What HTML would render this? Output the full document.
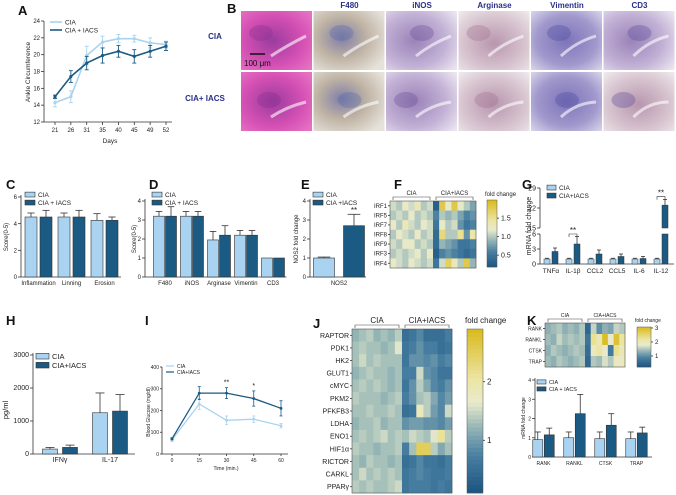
<!DOCTYPE html>
<html><head><meta charset="utf-8"><style>
html,body{margin:0;padding:0;background:#fff}
svg{display:block;font-family:"Liberation Sans",Arial,sans-serif}
</style></head><body>
<svg id="fig" width="676" height="495" viewBox="0 0 676 495" xmlns="http://www.w3.org/2000/svg">
<defs>
<radialGradient id="gHE" cx="45%" cy="50%" r="70%"><stop offset="0" stop-color="#9a3c9e"/><stop offset="0.6" stop-color="#d550b4"/><stop offset="1" stop-color="#e672c4"/></radialGradient>
<radialGradient id="gF" cx="40%" cy="45%" r="70%"><stop offset="0" stop-color="#7f7ea8"/><stop offset="0.5" stop-color="#bfb3a4"/><stop offset="1" stop-color="#e6e2da"/></radialGradient>
<radialGradient id="gL" cx="40%" cy="50%" r="75%"><stop offset="0" stop-color="#9a82b8"/><stop offset="0.6" stop-color="#c3b2d6"/><stop offset="1" stop-color="#ebe5f0"/></radialGradient>
<radialGradient id="gA" cx="50%" cy="55%" r="75%"><stop offset="0" stop-color="#b896ae"/><stop offset="0.6" stop-color="#d8c5d0"/><stop offset="1" stop-color="#f0ecee"/></radialGradient>
<radialGradient id="gV" cx="50%" cy="50%" r="70%"><stop offset="0" stop-color="#7d74ba"/><stop offset="0.6" stop-color="#a198cc"/><stop offset="1" stop-color="#d8d4ea"/></radialGradient>
</defs>
</svg>
<script>
// ---------- DATA ----------
const daysA = [21,26,31,35,40,45,49,52];
const ciaA = [14.3,15.0,19.9,21.5,21.9,21.9,21.4,21.2];
const ciaAerr = [0.5,0.7,1.1,0.7,0.5,0.4,0.6,0.4];
const iacsA = [15.0,17.4,19.0,19.9,20.4,19.8,20.4,21.0];
const iacsAerr = [0.2,0.7,0.8,0.9,0.7,0.8,0.7,0.5];
const ticksA = [12,14,16,18,20,22,24];

const catsC = ['Inflammation','Linning','Erosion'];
const ciaC = [4.5,4.5,4.25];
const iacsC = [4.5,4.5,4.25];
const ciaCerr = [0.3,0.3,0.5];
const iacsCerr = [0.5,0.5,0.25];

const catsD = ['F480','iNOS','Arginase','Vimentin','CD3'];
const ciaD = [3.2,3.2,1.95,2.2,1.0];
const iacsD = [3.2,3.2,2.2,2.2,1.0];
const ciaDerr = [0.25,0.25,0.45,0.25,0];
const iacsDerr = [0.5,0.25,0.5,0.25,0];

const catsE = ['NOS2'];
const ciaE = [1.0];
const iacsE = [2.7];
const ciaEerr = [0.05];
const iacsEerr = [0.6];

const catsG = ['TNFα','IL-1β','CCL2','CCL5','IL-6','IL-12'];
const ciaG = [1,1,1,1,1,1];
const iacsG = [2.5,4.0,2.0,1.5,1.1,23];
const ciaGerr = [0.15,0.15,0.15,0.15,0.15,0.15];
const iacsGerr = [0.7,1.5,0.8,0.5,0.4,2.0];

const catsH = ['IFNγ','IL-17'];
const ciaH = [150,1250];
const iacsH = [200,1300];
const ciaHerr = [50,600];
const iacsHerr = [70,500];

const timeI = [0,15,30,45,60];
const ciaI = [65,230,155,160,130];
const ciaIerr = [8,25,20,15,10];
const iacsI = [70,280,280,255,210];
const iacsIerr = [5,30,25,35,35];

const catsK = ['RANK','RANKL','CTSK','TRAP'];
const ciaK = [0.9,1.0,0.95,0.95];
const iacsK = [1.15,2.25,1.65,1.25];
const ciaKerr = [0.4,0.3,0.35,0.35];
const iacsKerr = [0.35,1.0,0.6,0.3];

const rowsF = ['IRF1','IRF5','IRF7','IRF8','IRF9','IRF3','IRF4'];
const heatF = [
 [1.1,1.0,1.2,1.1,1.3,1.0,1.1, 0.3,1.8,1.2,1.8,1.2,1.0,0.8],
 [1.0,1.1,1.0,1.2,1.0,1.1,1.0, 0.6,1.0,0.9,1.0,0.8,0.6,0.7],
 [1.2,1.0,1.3,1.1,1.0,1.2,1.1, 0.5,1.2,1.0,1.1,0.7,0.5,0.6],
 [1.0,1.2,1.1,1.0,1.2,1.0,1.1, 0.4,1.6,1.0,1.0,1.5,0.7,1.4],
 [1.1,1.0,1.2,1.2,1.0,1.1,1.0, 0.4,0.9,0.8,0.7,0.5,0.5,0.6],
 [1.0,1.1,1.0,1.1,1.2,1.0,1.2, 0.3,0.6,0.7,0.6,0.5,0.4,0.5],
 [1.2,1.1,1.0,1.2,1.1,1.0,1.1, 0.5,1.1,1.7,1.3,1.0,1.8,0.9]
];

const rowsJ = ['RAPTOR','PDK1','HK2','GLUT1','cMYC','PKM2','PFKFB3','LDHA','ENO1','HIF1α','RICTOR','CARKL','PPARγ'];
const heatJ = [
 [1.2,1.3,1.4,1.2,1.3,1.2,1.4, 0.5,0.6,0.8,0.5,0.5,0.5,0.7],
 [1.3,1.4,1.3,1.3,1.2,1.3,1.6, 0.6,0.7,0.9,0.7,0.7,0.5,0.6],
 [1.3,1.5,1.3,1.4,1.3,1.3,1.3, 0.6,0.9,0.9,0.8,0.9,0.7,0.8],
 [1.2,1.3,1.4,1.3,1.3,1.2,1.3, 0.7,0.7,1.5,0.9,0.8,0.6,0.6],
 [1.3,1.4,1.3,1.4,1.3,1.2,1.3, 0.6,0.9,1.4,1.1,0.8,0.7,0.9],
 [1.4,1.3,1.3,1.3,1.2,1.3,1.4, 0.7,0.9,1.3,1.4,1.1,0.8,1.0],
 [1.3,1.3,1.4,1.3,1.3,1.4,1.3, 0.5,0.6,1.8,1.4,1.0,0.8,1.5],
 [1.2,1.3,1.3,1.4,1.2,1.3,1.3, 0.9,1.0,1.0,0.9,0.9,0.8,1.0],
 [1.3,1.4,1.3,1.4,1.5,1.3,1.4, 1.3,1.5,1.4,1.3,1.6,2.1,1.4],
 [1.4,1.3,1.3,1.2,1.3,1.3,1.4, 0.7,1.3,2.5,2.5,1.4,1.1,1.3],
 [1.3,1.2,1.4,1.3,1.3,1.2,1.3, 0.5,0.6,0.8,0.6,0.6,0.5,0.7],
 [1.3,1.5,1.3,1.4,1.3,1.4,1.3, 0.6,0.7,0.8,0.7,0.6,0.6,0.7],
 [1.4,1.3,1.4,1.3,1.3,1.4,1.5, 0.6,0.7,0.7,0.7,0.6,0.7,0.6]
];

const rowsK = ['RANK','RANKL','CTSK','TRAP'];
const heatK = [
 [1.3,1.4,1.5,1.3,1.4,1.3,1.5, 0.5,1.6,1.0,1.3,1.2,1.6,1.5],
 [1.4,1.3,1.6,1.4,1.5,1.4,1.5, 0.7,2.3,2.0,3.0,1.8,2.9,2.2],
 [1.3,1.5,1.4,1.3,1.4,1.5,1.4, 0.6,1.9,2.2,1.8,0.8,2.3,2.0],
 [1.4,1.3,1.5,1.4,1.3,1.4,1.5, 0.5,1.5,1.4,1.7,1.5,1.9,1.9]
];

// ---------- HELPERS ----------
const svg = document.getElementById('fig');
const NS = 'http://www.w3.org/2000/svg';
const LIGHT = '#a9d3f0', DARK = '#1b5a82', GRID = '#333';
function mk(tag, attrs, parent){
  const e = document.createElementNS(NS, tag);
  for (const k in attrs) e.setAttribute(k, attrs[k]);
  (parent || svg).appendChild(e);
  return e;
}
function txt(x, y, s, size, opts, name){
  const o = Object.assign({x:x, y:y, 'font-size':size, fill:'#222'}, opts||{});
  const t = mk('text', o);
  t.textContent = s;
  
  
  return t;
}
function line(x1,y1,x2,y2,name,stroke,w){
  const l = mk('line',{x1:x1,y1:y1,x2:x2,y2:y2,stroke:stroke||GRID,'stroke-width':w||0.8});
  
  
  return l;
}
function cmap(t){
  const stops=[[0,[28,84,130]],[0.22,[70,125,160]],[0.4,[150,182,182]],[0.55,[232,234,205]],[0.7,[236,228,160]],[1,[216,186,28]]];
  t=Math.max(0,Math.min(1,t));
  for(let i=1;i<stops.length;i++){ if(t<=stops[i][0]){const a=stops[i-1],b=stops[i];const f=(t-a[0])/(b[0]-a[0]);
    return 'rgb('+a[1].map((c,j)=>Math.round(c+(b[1][j]-c)*f)).join(',')+')';}}
  return 'rgb(216,186,28)';
}
function panelLetter(x,y,s){ txt(x,y,s,13,{'font-weight':'bold',fill:'#111'},'panel-label-'+s.toLowerCase()); }

// ---------- generic bar chart ----------
function barChart(p, cats, s1, s2, e1, e2, o){
  const n=cats.length, band=(o.x1-o.x0)/n;
  const xC = i => o.x0 + (i+0.5)*band;
  const yS = o.yScale || (v => o.y0 - v*(o.y0-o.yTop)/o.vmax);
  line(o.ax, o.yTop-2, o.ax, o.y0, p+'-y-axis');
  line(o.ax, o.y0, o.x1, o.y0, p+'-x-axis');
  o.ticks.forEach(tv=>{ const y=yS(tv); line(o.ax-3,y,o.ax,y,p+'-y-tick'); txt(o.ax-4,y+2.2,String(tv),o.fs||6,{'text-anchor':'end'},p+'-y-tick-label'); });
  [[s1,e1,LIGHT,'cia'],[s2,e2,DARK,'iacs']].forEach((s,k)=>{
    s[0].forEach((v,i)=>{
      const x = k===0 ? xC(i)-o.gap/2-o.bw : xC(i)+o.gap/2;
      const yt=yS(v);
      const r=mk('rect',{x:x,y:yt,width:o.bw,height:o.y0-yt,fill:s[2],stroke:'#333','stroke-width':0.6});
      
      
      if(s[1][i]>0){ const ye=yS(v+s[1][i]);
        line(x+o.bw/2,yt,x+o.bw/2,ye,p+'-error-bar','#333',0.8);
        line(x+o.bw/2-o.bw*0.3,ye,x+o.bw/2+o.bw*0.3,ye,p+'-error-cap','#333',0.8); }
    });
  });
  cats.forEach((c,i)=> txt(xC(i), o.y0+8, c, o.fs||6.5, {'text-anchor':'middle'}, p+'-x-label'));
  return {xC:xC,yS:yS};
}
function legend(p,x,y,labels,fs,sw){
  labels.forEach((l,i)=>{
    const r=mk('rect',{x:x,y:y+i*(fs+1.5)-fs*0.75,width:sw,height:fs*0.75,fill:i?DARK:LIGHT,stroke:'#333','stroke-width':0.6});
    
    
    txt(x+sw+3,y+i*(fs+1.5),l,fs,{},p+'-legend-label-'+i);
  });
}

// ---------- PANEL A ----------
panelLetter(18,15,'A');
(function(){
  const ax=44, y0=122, yT=21, vmin=12, vmax=24;
  const yS=v=> y0-(v-vmin)*(y0-yT)/(vmax-vmin);
  const xS=i=> 55+i*(166-55)/(daysA.length-1);
  line(ax,yT,ax,y0,'a-y-axis'); line(ax,y0,172,y0,'a-x-axis');
  ticksA.forEach(t=>{line(ax-3,yS(t),ax,yS(t),'a-y-tick'); txt(ax-4,yS(t)+2,String(t),6,{'text-anchor':'end'},'a-y-tick-label');});
  daysA.forEach((d,i)=>{line(xS(i),y0,xS(i),y0+3,'a-x-tick'); txt(xS(i),y0+10,String(d),6,{'text-anchor':'middle'},'a-x-tick-label');});
  txt(110,143,'Days',6.5,{'text-anchor':'middle'},'a-x-axis-title');
  txt(30,72,'Ankle Circumference',6.5,{'text-anchor':'middle',transform:'rotate(-90 30 72)'},'a-y-axis-title');
  [[ciaA,ciaAerr,LIGHT,'cia'],[iacsA,iacsAerr,DARK,'iacs']].forEach(s=>{
    const pl=mk('polyline',{points:s[0].map((v,i)=>xS(i)+','+yS(v)).join(' '),fill:'none',stroke:s[2],'stroke-width':1.6});
    
    
    s[0].forEach((v,i)=>{
      line(xS(i),yS(v-s[1][i]),xS(i),yS(v+s[1][i]),'a-error-bar',s[2],0.9);
      line(xS(i)-2,yS(v-s[1][i]),xS(i)+2,yS(v-s[1][i]),'a-error-cap',s[2],0.9);
      line(xS(i)-2,yS(v+s[1][i]),xS(i)+2,yS(v+s[1][i]),'a-error-cap',s[2],0.9);
      const c=mk('circle',{cx:xS(i),cy:yS(v),r:1.6,fill:s[2]});
      
      
    });
  });
  line(50,22,62,22,'a-legend-line-cia',LIGHT,1.6); txt(65,24.5,'CIA',6.5,{},'a-legend-label-cia');
  line(50,30,62,30,'a-legend-line-iacs',DARK,1.6); txt(65,32.5,'CIA + IACS',6.5,{},'a-legend-label-iacs');
})();

// ---------- PANEL B ----------
panelLetter(227,13,'B');
(function(){
  const heads=['','F480','iNOS','Arginase','Vimentin','CD3'];
  const fills=['url(#gHE)','url(#gF)','url(#gL)','url(#gA)','url(#gV)','url(#gL)'];
  const fills2=['url(#gHE)','url(#gF)','url(#gL)','url(#gA)','url(#gV)','url(#gA)'];
  const blob=['#8a2f8e','#5a6aa8','#6a4f98','#a07090','#4b4aa0','#5a4a9a'];
  heads.forEach((h,i)=>{
    const x=241+i*72.5;
    if(h) txt(x+36,8,h,8,{'text-anchor':'middle','font-weight':'bold',fill:'#2a2f8a'},'b-column-header');
    [[11,fills],[72,fills2]].forEach((r,j)=>{
      const rc=mk('rect',{x:x,y:r[0],width:71,height:59,fill:r[1][i]});
      
      
      const e1=mk('ellipse',{cx:x+20+((i+j)%3)*8,cy:r[0]+22+j*6,rx:12,ry:8,fill:blob[i],opacity:0.35});
      
      
      const e2=mk('path',{d:`M${x+30},${r[0]+45} q15,-${10+i} 35,-${20-j*5}`,fill:'none',stroke:'#fff',opacity:0.6,'stroke-width':3});
      
      
    });
  });
  txt(215,39,'CIA',8,{'text-anchor':'middle','font-weight':'bold',fill:'#2a2f8a'},'b-row-label-cia');
  txt(205,101,'CIA+ IACS',8,{'text-anchor':'middle','font-weight':'bold',fill:'#2a2f8a'},'b-row-label-iacs');
  line(250,54,265,54,'b-scale-bar','#111',1.5);
  txt(244,66,'100 μm',8,{fill:'#111'},'b-scale-label');
})();

// ---------- PANEL C ----------
panelLetter(6,189,'C');
barChart('c',catsC,ciaC,iacsC,ciaCerr,iacsCerr,{ax:21,x0:22,x1:121,y0:277,yTop:197,vmax:6,bw:12,gap:3,ticks:[0,2,4,6],fs:6});
legend('c',25,197,['CIA','CIA + IACS'],6.5,10);
txt(8,237,'Score(0-5)',6,{'text-anchor':'middle',transform:'rotate(-90 8 237)'},'c-y-axis-title');

// ---------- PANEL D ----------
panelLetter(149,189,'D');
barChart('d',catsD,ciaD,iacsD,ciaDerr,iacsDerr,{ax:145,x0:151.5,x1:286.5,y0:277,yTop:201,vmax:4,bw:11,gap:1,ticks:[0,1,2,3,4],fs:6});
legend('d',152,197,['CIA','CIA + IACS'],6.5,10);
txt(136,239,'Score(0-5)',6,{'text-anchor':'middle',transform:'rotate(-90 136 239)'},'d-y-axis-title');

// ---------- PANEL E ----------
panelLetter(301,189,'E');
barChart('e',catsE,ciaE,iacsE,ciaEerr,iacsEerr,{ax:310,x0:312,x1:366,y0:277,yTop:201,vmax:4,bw:21,gap:9,ticks:[0,1,2,3,4],fs:6});
legend('e',313,197,['CIA','CIA +IACS'],6.5,10);
txt(354,213,'**',8,{'text-anchor':'middle'},'e-significance');
txt(298,239,'NOS2 fold change',6,{'text-anchor':'middle',transform:'rotate(-90 298 239)'},'e-y-axis-title');

// ---------- heatmap helper ----------
function heatmap(p, rows, data, o){
  const nc=data[0].length, cw=(o.x1-o.x0)/nc, rh=(o.y1-o.y0)/rows.length;
  data.forEach((row,r)=>row.forEach((v,c)=>{
    const rc=mk('rect',{x:o.x0+c*cw,y:o.y0+r*rh,width:cw+0.3,height:rh+0.3,fill:cmap((v-o.vmin)/(o.vmax-o.vmin))});
    
    
  }));
  const b=mk('rect',{x:o.x0,y:o.y0,width:o.x1-o.x0,height:o.y1-o.y0,fill:'none',stroke:'#555','stroke-width':0.6});
  
  
  rows.forEach((r,i)=>{ const y=o.y0+(i+0.5)*rh; txt(o.x0-3,y+o.fs*0.35,r,o.fs,{'text-anchor':'end'},p+'-row-label'); line(o.x0-2,y,o.x0,y,p+'-row-tick'); });
  const mid=o.x0+(o.x1-o.x0)/2;
  [[o.x0+3,mid-3,'CIA'],[mid+3,o.x1-3,'CIA+IACS']].forEach(g=>{
    const pth=mk('path',{d:`M${g[0]},${o.y0-1}V${o.y0-4}H${g[1]}V${o.y0-1}`,fill:'none',stroke:'#444','stroke-width':0.6});
    
    
    txt((g[0]+g[1])/2,o.y0-6,g[2],o.gfs,{'text-anchor':'middle'},p+'-group-label');
  });
  const N=40, ch=(o.cy1-o.cy0)/N;
  for(let i=0;i<N;i++){ const rc=mk('rect',{x:o.cx,y:o.cy0+i*ch,width:o.cw,height:ch+0.3,fill:cmap(1-(i+0.5)/N)});
      }
  const cb=mk('rect',{x:o.cx,y:o.cy0,width:o.cw,height:o.cy1-o.cy0,fill:'none',stroke:'#555','stroke-width':0.5});
   
  o.cticks.forEach((t,k)=>{ const y=o.cy1-(t-o.vmin)/(o.vmax-o.vmin)*(o.cy1-o.cy0);
    line(o.cx+o.cw,y,o.cx+o.cw+2,y,p+'-colorbar-tick'); txt(o.cx+o.cw+4,y+o.cfs*0.35,o.clabels[k],o.cfs,{},p+'-colorbar-label'); });
  txt(o.cx-2,o.ftY,'fold change',o.gfs,{},p+'-colorbar-title');
}

// ---------- PANEL F ----------
panelLetter(394,189,'F');
heatmap('f',rowsF,heatF,{x0:390,x1:476,y0:201,y1:268,vmin:0.18,vmax:1.99,fs:6,gfs:6,cx:487,cw:10,cy0:200,cy1:267,cticks:[0.5,1.0,1.5],clabels:['0.5','1.0','1.5'],cfs:7,ftY:196});

// ---------- PANEL G ----------
panelLetter(522,189,'G');
(function(){
  const ax=540, y0=264;
  const yS=v=> v<=6 ? y0-v*30/6 : 228-(v-15)*40/14;
  const n=catsG.length, band=22, x0=540;
  const xC=i=>x0+(i+0.5)*band;
  line(ax,234,ax,y0,'g-y-axis-lower'); line(ax,188,ax,228,'g-y-axis-upper');
  line(ax,y0,x0+n*band+2,y0,'g-x-axis');
  [0,3,6].forEach(t=>{line(ax-3,yS(t),ax,yS(t),'g-y-tick');txt(ax-4,yS(t)+2.5,String(t),7,{'text-anchor':'end'},'g-y-tick-label');});
  [15,22,29].forEach(t=>{line(ax-3,yS(t),ax,yS(t),'g-y-tick');txt(ax-4,yS(t)+2.5,String(t),7,{'text-anchor':'end'},'g-y-tick-label');});
  [[ciaG,ciaGerr,LIGHT,'cia',-7],[iacsG,iacsGerr,DARK,'iacs',1]].forEach(s=>{
    s[0].forEach((v,i)=>{
      const x=xC(i)+s[4], w=6;
      if(v>6){
        const r1=mk('rect',{x:x,y:yS(6),width:w,height:y0-yS(6),fill:s[2],stroke:'#333','stroke-width':0.5});
         
        const r2=mk('rect',{x:x,y:yS(v),width:w,height:228-yS(v),fill:s[2],stroke:'#333','stroke-width':0.5});
         
      } else {
        const r=mk('rect',{x:x,y:yS(v),width:w,height:y0-yS(v),fill:s[2],stroke:'#333','stroke-width':0.5});
         
      }
      const ye=yS(v+s[1][i]);
      line(x+w/2,yS(v),x+w/2,ye,'g-error-bar','#333',0.8); line(x+1,ye,x+w-1,ye,'g-error-cap','#333',0.8);
    });
  });
  catsG.forEach((c,i)=>txt(xC(i),y0+9,c,6.5,{'text-anchor':'middle'},'g-x-label'));
  [[1,4],[5,23]].forEach(s=>{ const i=s[0], y=yS(s[1]+ (i===5?3:2)) ;
    const pth=mk('path',{d:`M${xC(i)-4},${y+3}V${y}H${xC(i)+4}V${y+3}`,fill:'none',stroke:'#333','stroke-width':0.6});
     
    txt(xC(i),y-1,'**',8,{'text-anchor':'middle'},'g-significance'); });
  legend('g',547,190,['CIA','CIA+IACS'],6.5,9);
  txt(531,226,'mRNA fold change',7,{'text-anchor':'middle',transform:'rotate(-90 531 226)'},'g-y-axis-title');
})();

// ---------- PANEL H ----------
panelLetter(6,325,'H');
barChart('h',catsH,ciaH,iacsH,ciaHerr,iacsHerr,{ax:33,x0:35,x1:135,y0:454,yTop:355,vmax:3000,bw:15,gap:5,ticks:[0,1000,2000,3000],fs:7});
legend('h',36,359,['CIA','CIA+IACS'],7.5,13);
txt(8,410,'pg/ml',7.5,{'text-anchor':'middle',transform:'rotate(-90 8 410)'},'h-y-axis-title');

// ---------- PANEL I ----------
panelLetter(145,325,'I');
(function(){
  const ax=162, y0=454, yT=367, vmax=400;
  const yS=v=>y0-v*(y0-yT)/vmax;
  const xS=t=>172+t*(281-172)/60;
  line(ax,yT,ax,y0,'i-y-axis'); line(ax,y0,288,y0,'i-x-axis');
  [0,100,200,300,400].forEach(t=>{line(ax-2,yS(t),ax,yS(t),'i-y-tick');txt(ax-3,yS(t)+1.8,String(t),5,{'text-anchor':'end'},'i-y-tick-label');});
  timeI.forEach(t=>{line(xS(t),y0,xS(t),y0+2,'i-x-tick');txt(xS(t),y0+8,String(t),5,{'text-anchor':'middle'},'i-x-tick-label');});
  txt(226,470,'Time (min.)',5,{'text-anchor':'middle'},'i-x-axis-title');
  txt(150,412,'Blood Glucose (mg/dl)',5,{'text-anchor':'middle',transform:'rotate(-90 150 412)'},'i-y-axis-title');
  [[ciaI,ciaIerr,LIGHT,'cia'],[iacsI,iacsIerr,DARK,'iacs']].forEach(s=>{
    const pl=mk('polyline',{points:s[0].map((v,i)=>xS(timeI[i])+','+yS(v)).join(' '),fill:'none',stroke:s[2],'stroke-width':1.3});
     
    s[0].forEach((v,i)=>{ const x=xS(timeI[i]);
      line(x,yS(v-s[1][i]),x,yS(v+s[1][i]),'i-error-bar',s[2],0.8);
      line(x-1.5,yS(v-s[1][i]),x+1.5,yS(v-s[1][i]),'i-error-cap',s[2],0.8);
      line(x-1.5,yS(v+s[1][i]),x+1.5,yS(v+s[1][i]),'i-error-cap',s[2],0.8);
      const c=mk('circle',{cx:x,cy:yS(v),r:1.4,fill:s[2]});
        });
  });
  txt(xS(30),yS(iacsI[2]+iacsIerr[2])-3,'**',7,{'text-anchor':'middle'},'i-significance');
  txt(xS(45),yS(iacsI[3]+iacsIerr[3])-3,'*',7,{'text-anchor':'middle'},'i-significance');
  line(166,366,174,366,'i-legend-line-cia',LIGHT,1.2); txt(177,368,'CIA',5,{},'i-legend-label-cia');
  line(166,372,174,372,'i-legend-line-iacs',DARK,1.2); txt(177,374,'CIA+IACS',5,{},'i-legend-label-iacs');
})();

// ---------- PANEL J ----------
panelLetter(313,328,'J');
heatmap('j',rowsJ,heatJ,{x0:352,x1:452,y0:329,y1:493,vmin:0.1,vmax:2.9,fs:7,gfs:8,cx:467,cw:16,cy0:329,cy1:493,cticks:[1,2],clabels:['1','2'],cfs:8,ftY:323});

// ---------- PANEL K ----------
panelLetter(527,325,'K');
heatmap('k',rowsK,heatK,{x0:545,x1:625,y0:323,y1:367,vmin:0.21,vmax:3.07,fs:5,gfs:5,cx:637,cw:14,cy0:327,cy1:367,cticks:[1,2,3],clabels:['1','2','3'],cfs:6,ftY:322});
barChart('k2',catsK,ciaK,iacsK,ciaKerr,iacsKerr,{ax:535,x0:528,x1:652,y0:457,yTop:380,vmax:4,bw:10,gap:1.5,ticks:[0,1,2,3,4],fs:5});
legend('k2',537,384,['CIA','CIA + IACS'],5.5,9);
txt(525,418,'mRNA fold change',5,{'text-anchor':'middle',transform:'rotate(-90 525 418)'},'k-y-axis-title');
</script>
</body></html>
